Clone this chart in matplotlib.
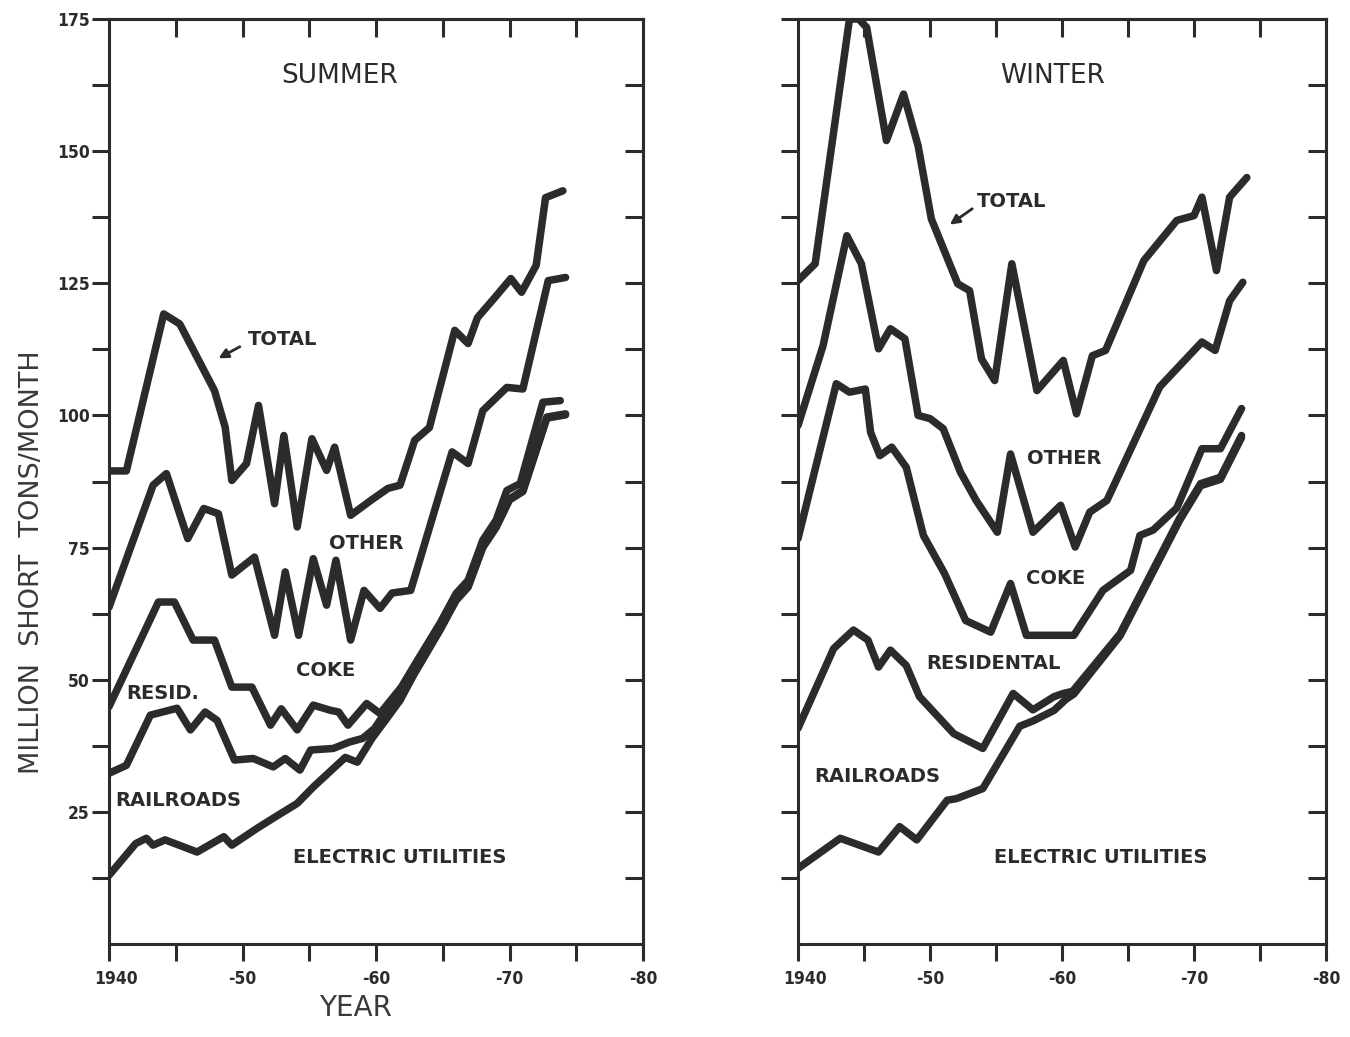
import numpy as np
import matplotlib
matplotlib.use("Agg")
import matplotlib.pyplot as plt
from matplotlib.transforms import ScaledTranslation

ink = "#2b2b2b"

# ---- summer curves (cumulative boundaries, million short tons / month) ----
summer_total_yr = [1940.0, 1941.3, 1944.1, 1945.3, 1947.9, 1948.7, 1949.2, 1950.3, 1951.2, 1952.4,
                   1953.1, 1954.1, 1955.2, 1956.3, 1956.9, 1958.1, 1959.6, 1960.9, 1961.8, 1962.9,
                   1964.0, 1965.9, 1966.9, 1967.6, 1968.9, 1970.1, 1970.9, 1972.0, 1972.7, 1974.0]
summer_total = [89.5, 89.5, 119.2, 117.3, 104.7, 97.8, 87.7, 90.9, 101.9, 83.3,
                96.2, 78.9, 95.6, 89.6, 94.0, 81.1, 83.9, 86.2, 86.8, 95.3,
                97.7, 116.1, 113.6, 118.5, 122.3, 125.9, 123.3, 128.4, 141.2, 142.5]

summer_other_yr = [1940.0, 1943.3, 1944.3, 1945.9, 1947.1, 1948.2, 1949.2, 1950.9, 1952.4, 1953.2,
                   1954.2, 1955.3, 1956.3, 1957.0, 1958.1, 1959.1, 1960.3, 1961.2, 1962.6, 1965.7,
                   1966.9, 1968.0, 1969.8, 1971.0, 1972.9, 1974.2]
summer_other = [63.7, 86.8, 89.0, 76.7, 82.4, 81.4, 69.8, 73.2, 58.4, 70.4,
                58.4, 72.9, 64.1, 72.6, 57.5, 66.9, 63.5, 66.4, 66.9, 93.1,
                90.9, 100.9, 105.3, 105.0, 125.5, 126.1]

summer_coke_yr = [1940.0, 1943.7, 1944.9, 1946.3, 1947.9, 1949.2, 1950.7, 1952.1, 1952.9, 1954.1,
                  1955.3, 1956.6, 1957.2, 1957.9, 1959.3, 1960.3, 1961.9, 1962.8, 1964.8, 1966.0,
                  1966.9, 1968.0, 1969.0, 1969.8, 1970.8, 1972.5, 1973.8]
summer_coke = [44.9, 64.7, 64.7, 57.5, 57.5, 48.6, 48.6, 41.4, 44.5, 40.5,
               45.2, 44.2, 43.9, 41.4, 45.5, 43.6, 48.6, 52.4, 60.7, 66.3,
               68.8, 76.4, 80.2, 85.8, 87.1, 102.5, 102.8]

summer_resid_yr = [1940.0, 1941.3, 1943.1, 1945.1, 1946.1, 1947.2, 1948.1, 1949.4, 1950.8, 1952.3,
                   1953.2, 1954.3, 1955.1, 1956.8, 1958.0, 1959.0, 1959.9, 1961.0, 1962.2, 1962.8,
                   1964.8, 1966.0, 1966.9, 1968.0, 1969.0, 1970.0, 1971.0, 1972.8, 1974.2]
summer_resid = [32.3, 33.8, 43.3, 44.6, 40.5, 43.9, 42.3, 34.8, 35.1, 33.5,
                35.1, 32.9, 36.7, 37.0, 38.2, 38.9, 40.8, 45.0, 48.4, 51.4,
                59.7, 65.3, 67.8, 75.4, 79.2, 84.2, 85.8, 99.7, 100.3]

summer_rail_yr = [1940.0, 1942.0, 1942.8, 1943.3, 1944.2, 1946.6, 1948.6, 1949.2, 1951.1, 1952.3,
                  1954.1, 1955.3, 1956.8, 1957.7, 1958.6, 1959.7, 1960.7, 1961.8, 1962.8, 1964.8,
                  1966.0, 1966.9, 1968.0, 1969.0, 1970.0, 1971.0, 1972.8, 1974.2]
summer_rail = [13.0, 19.0, 20.0, 18.7, 19.7, 17.4, 20.3, 18.7, 21.9, 23.8,
               26.6, 29.7, 33.2, 35.3, 34.4, 38.9, 42.3, 46.1, 50.8, 59.4,
               65.0, 67.5, 75.0, 78.8, 84.0, 85.6, 99.5, 100.1]

# ---- winter curves ----
winter_total_yr = [1940.0, 1941.3, 1943.9, 1944.6, 1945.2, 1946.7, 1948.0, 1949.1, 1950.1, 1952.1,
                   1953.0, 1953.9, 1954.9, 1956.2, 1958.1, 1960.1, 1961.1, 1962.3, 1963.3, 1966.2,
                   1968.7, 1970.0, 1970.6, 1971.7, 1972.7, 1974.0]
winter_total = [125.5, 128.7, 175.0, 175.0, 173.4, 152.0, 160.8, 151.0, 137.2, 124.9,
                123.6, 110.7, 106.6, 128.7, 104.7, 110.4, 100.3, 111.3, 112.3, 129.3,
                136.9, 137.8, 141.3, 127.4, 141.3, 145.0]

winter_other_yr = [1940.0, 1941.9, 1943.7, 1944.8, 1946.1, 1947.0, 1948.1, 1949.1, 1950.0, 1951.0,
                   1952.3, 1953.5, 1955.1, 1956.1, 1957.8, 1959.9, 1961.0, 1962.1, 1963.4, 1967.4,
                   1970.6, 1971.6, 1972.7, 1973.7]
winter_other = [98.1, 113.2, 134.0, 128.7, 112.6, 116.4, 114.5, 100.0, 99.4, 97.5,
                89.3, 83.9, 77.9, 92.7, 77.9, 83.0, 75.1, 81.7, 83.9, 105.4,
                113.9, 112.3, 121.7, 125.2]

winter_coke_yr = [1940.0, 1942.9, 1943.9, 1945.1, 1945.5, 1946.2, 1947.1, 1948.2, 1949.5, 1951.1,
                  1952.7, 1954.6, 1956.1, 1957.3, 1960.9, 1963.1, 1965.2, 1965.9, 1966.9, 1968.7,
                  1970.6, 1972.0, 1973.6]
winter_coke = [76.7, 106.0, 104.4, 105.0, 96.8, 92.4, 94.0, 90.2, 77.3, 70.1,
               61.2, 59.0, 68.2, 58.4, 58.4, 66.9, 70.7, 77.3, 78.3, 82.5,
               93.7, 93.7, 101.3]

winter_resid_yr = [1940.0, 1942.7, 1944.2, 1945.3, 1946.1, 1947.0, 1948.2, 1949.2, 1951.8, 1954.0,
                   1956.3, 1957.8, 1959.4, 1960.1, 1960.8, 1964.4, 1968.9, 1970.5, 1972.0, 1973.6]
winter_resid = [40.8, 55.9, 59.4, 57.5, 52.4, 55.6, 52.7, 46.8, 39.8, 37.0,
                47.4, 44.3, 46.8, 47.4, 47.8, 58.7, 80.5, 87.1, 88.3, 96.2]

winter_rail_yr = [1940.0, 1943.2, 1946.1, 1947.7, 1949.0, 1951.3, 1952.0, 1954.0, 1956.8, 1957.8,
                  1959.4, 1960.3, 1960.9, 1964.4, 1968.9, 1970.5, 1972.0, 1973.6]
winter_rail = [14.3, 20.0, 17.4, 22.2, 19.7, 27.2, 27.5, 29.4, 41.2, 42.2,
               44.2, 46.3, 47.3, 58.3, 80.1, 86.7, 87.9, 95.8]

x_major = np.arange(1940, 1981, 5)
x_labels = ["1940", "", "-50", "", "-60", "", "-70", "", "-80"]
y_major = np.arange(12.5, 175.1, 12.5)
y_labels = [str(int(v)) if v % 25 == 0 else "" for v in y_major]

fig = plt.figure(figsize=(13.5, 10.37), dpi=100)
W, H = 1350, 1037
ax_s = fig.add_axes([109 / W, 93 / H, 534 / W, 925 / H])
ax_w = fig.add_axes([798 / W, 93 / H, 528 / W, 925 / H])


def frame(ax, with_labels):
    ax.set_xlim(1940, 1980)
    ax.set_ylim(0, 175)
    for sp in ax.spines.values():
        sp.set_linewidth(2.2)
        sp.set_color(ink)
    ax.set_xticks(x_major)
    ax.set_xticklabels(x_labels)
    ax.set_yticks(y_major)
    ax.set_yticklabels(y_labels if with_labels else [])
    ax.tick_params(axis="both", direction="out", length=12, width=2.2, color=ink,
                   labelcolor=ink, labelsize=12.5)
    ax.tick_params(axis="x", pad=7)
    ax.tick_params(axis="y", pad=2)
    for t in ax.get_xticklabels() + ax.get_yticklabels():
        t.set_fontweight("bold")
        t.set_fontstretch("condensed")
    # the first year label sits a little right of its tick
    first = ax.get_xticklabels()[0]
    first.set_transform(first.get_transform() + ScaledTranslation(5 / 72, 0, fig.dpi_scale_trans))
    top = ax.secondary_xaxis("top")
    top.set_xticks(np.arange(1945, 1980, 5))
    top.tick_params(direction="in", length=13, width=2.2, color=ink, labeltop=False)
    right = ax.secondary_yaxis("right")
    right.set_yticks(np.arange(12.5, 170, 12.5))
    right.tick_params(direction="in", length=13, width=2.2, color=ink, labelright=False)
    for sec in (top, right):
        for sp in sec.spines.values():
            sp.set_linewidth(2.2)
            sp.set_color(ink)


def curves(ax, series):
    for yr, val in series:
        ax.plot(yr, val, color=ink, lw=5.4, solid_joinstyle="round", solid_capstyle="round")


frame(ax_s, True)
frame(ax_w, False)

curves(ax_s, [(summer_total_yr, summer_total), (summer_other_yr, summer_other),
              (summer_coke_yr, summer_coke), (summer_resid_yr, summer_resid),
              (summer_rail_yr, summer_rail)])
curves(ax_w, [(winter_total_yr, winter_total), (winter_other_yr, winter_other),
              (winter_coke_yr, winter_coke), (winter_resid_yr, winter_resid),
              (winter_rail_yr, winter_rail)])

lab = dict(color=ink, ha="center", va="center", fontsize=14, fontweight="bold")
head = dict(color=ink, ha="center", va="center", fontsize=19)
arrow = dict(arrowstyle="-|>", lw=2, color=ink, mutation_scale=14, shrinkA=0, shrinkB=0)

# summer labels
ax_s.text(1957.3, 164.3, "SUMMER", **head)
ax_s.text(1953.0, 114.4, "TOTAL", **lab)
ax_s.annotate("", xy=(1948.2, 110.8), xytext=(1949.8, 113.0), arrowprops=arrow)
ax_s.text(1959.3, 75.8, "OTHER", **lab)
ax_s.text(1956.2, 51.8, "COKE", **lab)
ax_s.text(1944.0, 47.4, "RESID.", **lab)
ax_s.text(1945.2, 27.2, "RAILROADS", **lab)
ax_s.text(1961.8, 16.4, "ELECTRIC UTILITIES", **lab)

# winter labels
ax_w.text(1959.3, 164.3, "WINTER", **head)
ax_w.text(1956.2, 140.5, "TOTAL", **lab)
ax_w.annotate("", xy=(1951.5, 136.1), xytext=(1953.2, 139.1), arrowprops=arrow)
ax_w.text(1960.2, 91.9, "OTHER", **lab)
ax_w.text(1959.5, 69.2, "COKE", **lab)
ax_w.text(1954.8, 53.1, "RESIDENTAL", **lab)
ax_w.text(1946.0, 31.6, "RAILROADS", **lab)
ax_w.text(1962.9, 16.4, "ELECTRIC UTILITIES", **lab)

fig.text(32 / W, 1 - 562 / H, "MILLION  SHORT  TONS/MONTH", rotation=90, color="#3a3a3a",
         ha="center", va="center", fontsize=19.5)
fig.text(355 / W, 1 - 1008 / H, "YEAR", color="#3a3a3a", ha="center", va="center", fontsize=20)

fig.savefig("out.png", dpi=100, facecolor="white")
